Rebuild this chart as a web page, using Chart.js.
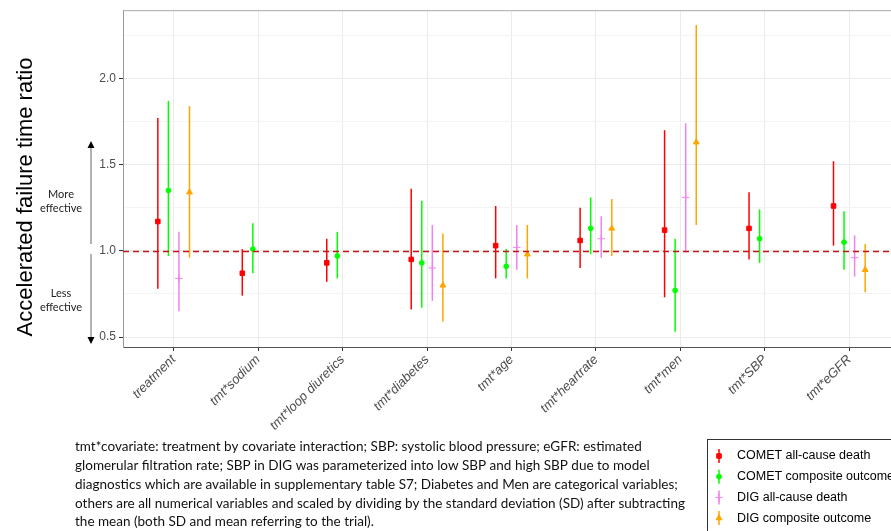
<!DOCTYPE html>
<html>
<head>
<meta charset="utf-8">
<script src="https://cdn.jsdelivr.net/npm/chart.js@4.4.0/dist/chart.umd.min.js"></script>
<style>
  html, body { margin: 0; padding: 0; background: #fff; overflow: hidden; }
  #wrap { width: 891px; height: 531px; overflow: hidden; position: relative; }
</style>
</head>
<body>
<div id="wrap"><canvas id="aft" width="905" height="531"></canvas></div>
<script>
const categories = ['treatment', 'tmt*sodium', 'tmt*loop diuretics', 'tmt*diabetes', 'tmt*age',
                    'tmt*heartrate', 'tmt*men', 'tmt*SBP', 'tmt*eGFR'];
const seriesNames = ['COMET all-cause death', 'COMET composite outcome', 'DIG all-cause death', 'DIG composite outcome'];

// estimate / lower / upper per category (null = not in model)
const cometDeathEst = [1.17, 0.87, 0.93, 0.95, 1.03, 1.06, 1.12, 1.13, 1.26];
const cometDeathLo  = [0.78, 0.74, 0.82, 0.66, 0.84, 0.90, 0.73, 0.95, 1.03];
const cometDeathHi  = [1.77, 1.01, 1.07, 1.36, 1.26, 1.25, 1.70, 1.34, 1.52];
const cometCompEst  = [1.35, 1.01, 0.97, 0.93, 0.91, 1.13, 0.77, 1.07, 1.05];
const cometCompLo   = [0.97, 0.87, 0.84, 0.67, 0.84, 0.98, 0.53, 0.93, 0.89];
const cometCompHi   = [1.87, 1.16, 1.11, 1.29, 1.01, 1.31, 1.07, 1.24, 1.23];
const digDeathEst   = [0.84, null, null, 0.90, 1.02, 1.07, 1.31, null, 0.96];
const digDeathLo    = [0.65, null, null, 0.71, 0.89, 0.96, 0.99, null, 0.85];
const digDeathHi    = [1.11, null, null, 1.15, 1.15, 1.20, 1.74, null, 1.09];
const digCompEst    = [1.34, null, null, 0.80, 0.98, 1.13, 1.63, null, 0.89];
const digCompLo     = [0.96, null, null, 0.59, 0.84, 0.97, 1.15, null, 0.76];
const digCompHi     = [1.84, null, null, 1.10, 1.15, 1.30, 2.31, null, 1.04];

const yTicks = [0.5, 1.0, 1.5, 2.0];
const yMinorTicks = [0.75, 1.25, 1.75, 2.25];
const refLine = 1.0;

const footLines = [
  'tmt*covariate: treatment by covariate interaction; SBP: systolic blood pressure; eGFR: estimated',
  'glomerular filtration rate; SBP in DIG was parameterized into low SBP and high SBP due to model',
  'diagnostics which are available in supplementary table S7; Diabetes and Men are categorical variables;',
  'others are all numerical variables and scaled by dividing by the standard deviation (SD) after subtracting',
  'the mean (both SD and mean referring to the trial).'
];

const colors = ['#ff0000', '#00ff00', '#ee82ee', '#ffa500'];
const shapes = ['rect', 'circle', 'cross', 'triangle'];
const radii = [3.2, 2.4, 3.8, 3.4];
const dodge = [-0.1875, -0.0625, 0.0625, 0.1875];

function makeSeries(k, est, lo, hi) {
    const pts = [];
    est.forEach((v, i) => {
        if (v === null) return;
        pts.push({x: i + 1 + dodge[k], y: v, lo: lo[i], hi: hi[i]});
    });
    return {
        label: seriesNames[k],
        data: pts,
        borderColor: colors[k],
        backgroundColor: colors[k],
        pointStyle: shapes[k],
        pointRadius: radii[k],
        pointBorderWidth: 1,
        showLine: false
    };
}

const FONT = '"Liberation Sans", Arial, sans-serif';

const extras = {
    id: 'extras',
    beforeDatasetsDraw(chart) {
        const {ctx, scales: {y}} = chart;
        // error bars
        ctx.save();
        ctx.lineWidth = 1.5;
        chart.data.datasets.forEach((ds, k) => {
            const meta = chart.getDatasetMeta(k);
            ctx.strokeStyle = ds.borderColor;
            meta.data.forEach((el, i) => {
                const p = ds.data[i];
                ctx.beginPath();
                ctx.moveTo(el.x, y.getPixelForValue(p.lo));
                ctx.lineTo(el.x, y.getPixelForValue(p.hi));
                ctx.stroke();
            });
        });
        ctx.restore();
    },
    afterDatasetsDraw(chart) {
        const {ctx, scales: {y}, chartArea: a} = chart;
        const y1 = Math.round(y.getPixelForValue(refLine)) + 0.5;
        ctx.save();
        ctx.strokeStyle = '#c41414';
        ctx.lineWidth = 1.5;
        ctx.setLineDash([6, 4]);
        ctx.beginPath();
        ctx.moveTo(a.left, y1);
        ctx.lineTo(a.right, y1);
        ctx.stroke();
        ctx.restore();
    },
    afterDraw(chart) {
        const {ctx, chartArea: a} = chart;
        ctx.save();
        // top border of panel
        ctx.strokeStyle = '#a8a8a8';
        ctx.lineWidth = 1;
        ctx.beginPath();
        ctx.moveTo(a.left, a.top + 0.5);
        ctx.lineTo(a.right, a.top + 0.5);
        ctx.stroke();

        // y axis title
        ctx.save();
        ctx.translate(32, 197);
        ctx.rotate(-Math.PI / 2);
        ctx.fillStyle = '#000';
        ctx.font = '22px ' + FONT;
        ctx.textAlign = 'center';
        ctx.textBaseline = 'alphabetic';
        ctx.fillText('Accelerated failure time ratio', 0, 0);
        ctx.restore();

        // effect direction arrows
        ctx.strokeStyle = '#999';
        ctx.lineWidth = 1.5;
        ctx.beginPath();
        ctx.moveTo(91, 146); ctx.lineTo(91, 244);
        ctx.moveTo(91, 254); ctx.lineTo(91, 339);
        ctx.stroke();
        ctx.fillStyle = '#000';
        ctx.beginPath();
        ctx.moveTo(91, 141); ctx.lineTo(87.5, 148); ctx.lineTo(94.5, 148); ctx.closePath();
        ctx.moveTo(91, 344); ctx.lineTo(87.5, 337); ctx.lineTo(94.5, 337); ctx.closePath();
        ctx.fill();

        ctx.font = '11px Lato, "Open Sans", sans-serif';
        ctx.textAlign = 'center';
        ctx.textBaseline = 'middle';
        ctx.fillStyle = '#222';
        ctx.fillText('More', 61, 194);
        ctx.fillText('effective', 61, 208);
        ctx.fillText('Less', 61, 293);
        ctx.fillText('effective', 61, 307);

        // legend
        ctx.strokeStyle = '#333';
        ctx.lineWidth = 1;
        ctx.strokeRect(707.5, 439.5, 300, 120);
        ctx.font = '12.5px ' + FONT;
        ctx.textAlign = 'left';
        chart.data.datasets.forEach((ds, k) => {
            const ly = 456 + k * 20.7;
            ctx.strokeStyle = ds.borderColor;
            ctx.fillStyle = ds.backgroundColor;
            ctx.lineWidth = 1.5;
            ctx.beginPath();
            ctx.moveTo(719, ly - 7); ctx.lineTo(719, ly + 7);
            ctx.stroke();
            ctx.lineWidth = 1;
            Chart.helpers.drawPoint(ctx, {pointStyle: ds.pointStyle, radius: ds.pointRadius, rotation: 0, borderWidth: 1}, 719, ly);
            ctx.fillStyle = '#000';
            ctx.fillText(ds.label, 737, ly);
        });

        // footnote
        ctx.font = '13px Lato, "Open Sans", sans-serif';
        ctx.fillStyle = '#111';
        ctx.textBaseline = 'middle';
        const sx = 610 / ctx.measureText(footLines[3]).width;
        footLines.forEach((t, i) => {
            ctx.save();
            ctx.translate(75, 447 + i * 18.8);
            ctx.scale(sx, 1);
            ctx.fillText(t, 0, 0);
            ctx.restore();
        });
        ctx.restore();
    }
};

const config = {
    type: 'scatter',
    data: {
        datasets: [
            makeSeries(0, cometDeathEst, cometDeathLo, cometDeathHi),
            makeSeries(1, cometCompEst, cometCompLo, cometCompHi),
            makeSeries(2, digDeathEst, digDeathLo, digDeathHi),
            makeSeries(3, digCompEst, digCompLo, digCompHi)
        ]
    },
    options: {
        responsive: false,
        animation: false,
        layout: {padding: {top: 8, right: 5, bottom: 0, left: 0}},
        plugins: {
            legend: {display: false},
            tooltip: {enabled: false}
        },
        scales: {
            x: {
                type: 'linear',
                min: 0.4,
                max: 9.6,
                afterBuildTicks: s => { s.ticks = categories.map((c, i) => ({value: i + 1})); },
                afterFit: s => { s.height = 184; },
                ticks: {
                    callback: v => categories[v - 1],
                    autoSkip: false,
                    minRotation: 45,
                    maxRotation: 45,
                    padding: 1,
                    color: '#4d4d4d',
                    font: {family: FONT, size: 13, style: 'italic'}
                },
                grid: {color: '#ebebeb', lineWidth: 1, tickLength: 4, tickColor: '#333'},
                border: {color: '#555', width: 1}
            },
            y: {
                type: 'linear',
                min: 0.442,
                max: 2.396,
                afterBuildTicks: s => {
                    s.ticks = yTicks.concat(yMinorTicks).sort((p, q) => p - q).map(v => ({value: v}));
                },
                afterFit: s => { s.width = 123; },
                ticks: {
                    callback: v => yTicks.includes(v) ? v.toFixed(1) : '',
                    padding: 3,
                    color: '#4d4d4d',
                    font: {family: FONT, size: 12}
                },
                grid: {
                    color: c => yTicks.includes(c.tick.value) ? '#ebebeb' : '#f4f4f4',
                    tickColor: c => yTicks.includes(c.tick.value) ? '#333' : 'rgba(0,0,0,0)',
                    lineWidth: 1,
                    tickLength: 4
                },
                border: {color: '#999', width: 1}
            }
        }
    },
    plugins: [extras]
};

const aftChart = new Chart('aft', config);
</script>
</body>
</html>
